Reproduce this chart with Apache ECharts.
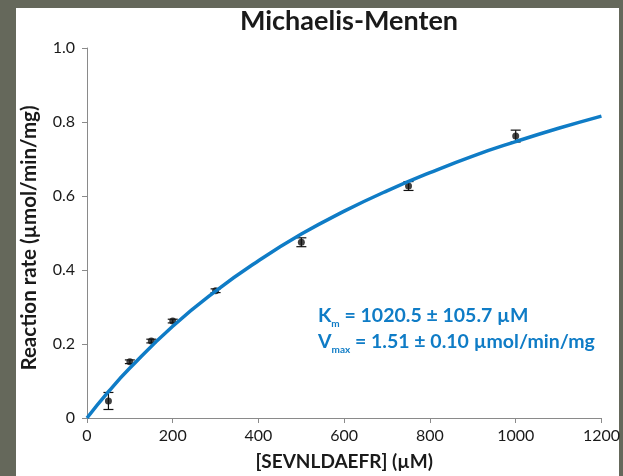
<!DOCTYPE html>
<html><head><meta charset="utf-8">
<script src="https://cdn.jsdelivr.net/npm/echarts@6/dist/echarts.min.js"></script>
<style>html,body{margin:0;padding:0;background:#65685b;}#c{width:623px;height:476px;}</style>
</head><body><div id="c"></div>
<script>
// Measured data
const substrate = [50, 100, 150, 200, 300, 500, 750, 1000];
const rate      = [0.046, 0.152, 0.208, 0.262, 0.344, 0.475, 0.627, 0.762];
const rateErr   = [0.023, 0.005, 0.005, 0.005, 0.005, 0.012, 0.012, 0.016];
// Fitted curve
const fitX = [0, 50, 100, 200, 300, 400, 500, 600, 700, 800, 900, 1000, 1100, 1200];
const fitY = [0, 0.071, 0.135, 0.248, 0.343, 0.425, 0.497, 0.559, 0.614, 0.663, 0.708, 0.747, 0.783, 0.816];
const xTicks = [0, 200, 400, 600, 800, 1000, 1200];
const yTicks = [0, 0.2, 0.4, 0.6, 0.8, 1.0];

const BLUE = '#0f7cc6';
const FONT = 'Lato, "Open Sans", sans-serif';
const chart = echarts.init(document.getElementById('c'));
chart.setOption({
  backgroundColor: 'transparent',
  animation: false,
  graphic: [
    {type: 'rect', z: -10, shape: {x: 16, y: 8, width: 603, height: 470}, style: {fill: '#ffffff'}},
    {type: 'text', x: 29, y: 238, rotation: Math.PI / 2, style: {
      text: 'Reaction rate (µmol/min/mg)', align: 'center', verticalAlign: 'middle',
      fontFamily: FONT, fontWeight: 'bold', fontSize: 20.5, fill: '#1a1a1a'
    }},
    {type: 'text', left: 318, top: 303, style: {
      rich: {
        b: {fontFamily: FONT, fontWeight: 'bold', fontSize: 19.5, fill: BLUE},
        s: {fontFamily: FONT, fontWeight: 'bold', fontSize: 10, fill: BLUE, verticalAlign: 'bottom', padding: [9, 0, 0, 0]}
      },
      text: '{b|K}{s|m}{b| = 1020.5 ± 105.7 µM}\n{b|V}{s|max}{b| = 1.51 ± 0.10 µmol/min/mg}',
      lineHeight: 26
    }}
  ],
  title: {
    text: 'Michaelis-Menten', left: 344, top: 3, textAlign: 'center',
    textStyle: {fontFamily: FONT, fontWeight: 'bold', fontSize: 27, color: '#1a1a1a'}
  },
  grid: {left: 87, right: 19, top: 48, bottom: 57, containLabel: false},
  xAxis: {
    type: 'value', min: 0, max: 1200, interval: 200,
    name: '[SEVNLDAEFR] (µM)', nameLocation: 'middle', nameGap: 34,
    nameTextStyle: {fontFamily: FONT, fontWeight: 'bold', fontSize: 19, color: '#1a1a1a'},
    axisLine: {lineStyle: {color: '#8a8a8a', width: 1}},
    axisTick: {show: true, length: 5, lineStyle: {color: '#8a8a8a'}},
    axisLabel: {fontFamily: FONT, fontSize: 16, color: '#1a1a1a', margin: 10,
      formatter: v => xTicks.includes(v) ? String(v) : ''},
    splitLine: {show: false}
  },
  yAxis: {
    type: 'value', min: 0, max: 1.0, interval: 0.2,
    axisLine: {show: true, lineStyle: {color: '#8a8a8a', width: 1}},
    axisTick: {show: true, length: 5, lineStyle: {color: '#8a8a8a'}},
    axisLabel: {fontFamily: FONT, fontSize: 16, color: '#1a1a1a', margin: 12,
      formatter: v => { const t = yTicks.find(k => Math.abs(k - v) < 1e-9); return t === undefined ? '' : (t === 0 ? '0' : t.toFixed(1)); }},
    splitLine: {show: false}
  },
  series: [
    {
      type: 'custom', z: 3,
      data: substrate.map((s, i) => [s, rate[i] - rateErr[i], rate[i] + rateErr[i]]),
      renderItem: (params, api) => {
        const lo = api.coord([api.value(0), api.value(1)]);
        const hi = api.coord([api.value(0), api.value(2)]);
        const w = 5;
        const st = {stroke: '#111', lineWidth: 1.2};
        return {type: 'group', children: [
          {type: 'line', shape: {x1: lo[0], y1: lo[1], x2: hi[0], y2: hi[1]}, style: st},
          {type: 'line', shape: {x1: lo[0] - w, y1: lo[1], x2: lo[0] + w, y2: lo[1]}, style: st},
          {type: 'line', shape: {x1: hi[0] - w, y1: hi[1], x2: hi[0] + w, y2: hi[1]}, style: st}
        ]};
      }
    },
    {
      type: 'scatter', z: 4, symbol: 'circle', symbolSize: 7,
      itemStyle: {color: '#111'},
      data: substrate.map((s, i) => [s, rate[i]])
    },
    {
      type: 'line', z: 5, smooth: true, showSymbol: false, symbol: 'none',
      lineStyle: {color: BLUE, width: 3.5},
      data: fitX.map((x, i) => [x, fitY[i]])
    }
  ]
});
</script></body></html>
